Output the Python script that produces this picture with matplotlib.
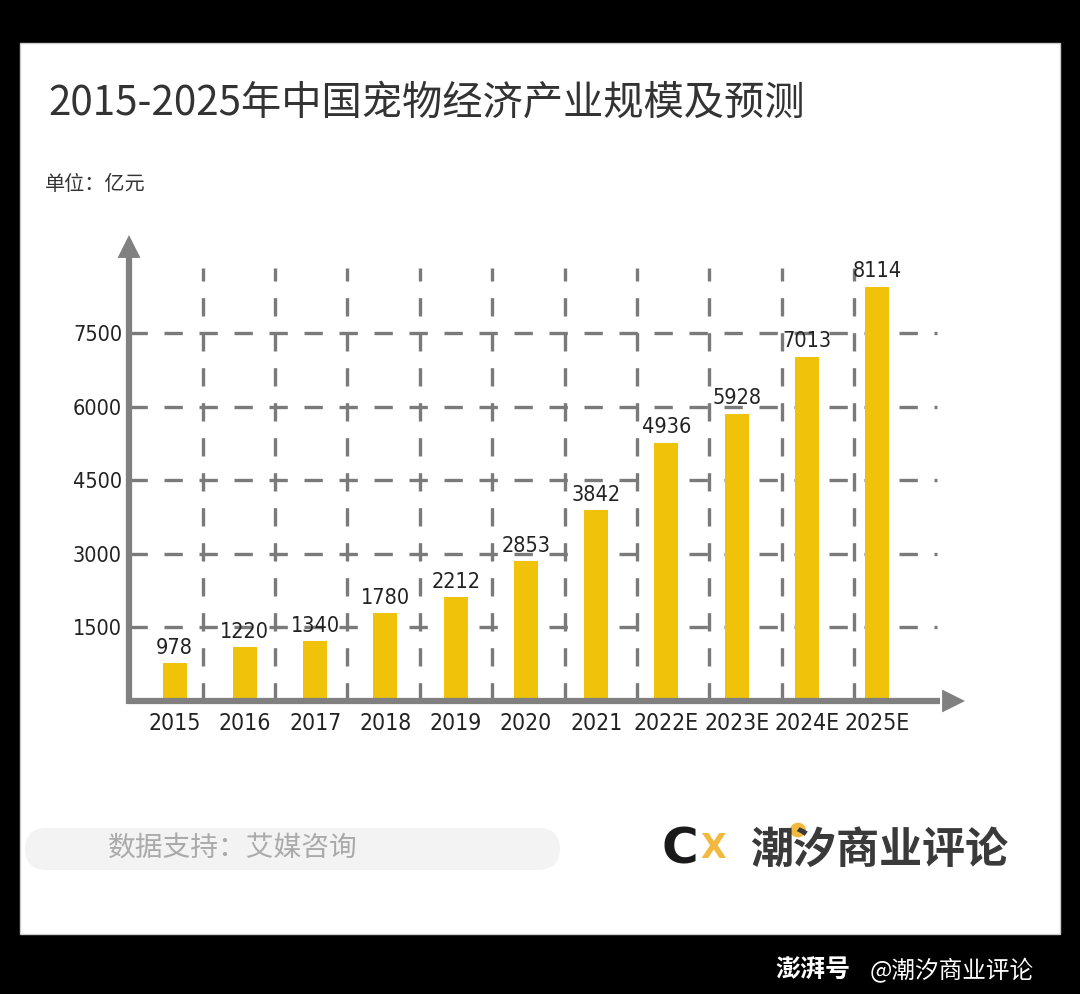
import matplotlib.pyplot as plt
from matplotlib import font_manager
from matplotlib.patches import Rectangle, FancyBboxPatch, Circle

# data
years = ['2015', '2016', '2017', '2018', '2019', '2020', '2021',
         '2022E', '2023E', '2024E', '2025E']
value_labels = ['978', '1220', '1340', '1780', '2212', '2853', '3842',
                '4936', '5928', '7013', '8114']
# bar heights as drawn in the picture (they do not follow the labels exactly)
bar_heights = [773, 1098, 1220, 1790, 2115, 2847, 3884, 5267, 5857, 7016, 8440]
y_ticks = [1500, 3000, 4500, 6000, 7500]

W, H = 1080, 994
gray = '#808080'
grid_gray = '#7a7a7a'
yellow = '#F0C30A'
cjk = ['Noto Sans CJK SC', 'DejaVu Sans']

# look for a narrow font for the numbers
narrow_file = None
for f in font_manager.fontManager.ttflist:
    nm = f.name + ' ' + f.fname
    if ('Narrow' in nm or 'Condensed' in nm) and f.weight in (400, 'normal') \
            and f.style == 'normal':
        narrow_file = f.fname
        break


def num_font(size):
    if narrow_file:
        return font_manager.FontProperties(fname=narrow_file, size=size)
    return font_manager.FontProperties(family='DejaVu Sans', size=size * 0.8)


fig = plt.figure(figsize=(W / 100, H / 100), dpi=100, facecolor='black')

# white panel
fig.patches.append(Rectangle((20 / W, 1 - 934 / H), 1040 / W, 891 / H,
                             transform=fig.transFigure, facecolor='white',
                             edgecolor='#cccccc', lw=1, zorder=-5))

# chart area (pixel box of the axis lines)
left, right, bottom, top = 129, 965, 701, 235
ax = fig.add_axes([left / W, 1 - bottom / H, (right - left) / W, (bottom - top) / H])
ax.set_facecolor('none')
xmin, xmax = -0.65, 11.25
ymax = 9500
ax.set_xlim(xmin, xmax)
ax.set_ylim(0, ymax)
for s in ax.spines.values():
    s.set_visible(False)

# dashed grid (vertical lines are spaced a little wider than the bars)
for v in y_ticks:
    ax.plot([xmin, 10.85], [v, v], color=grid_gray, lw=2.4,
            linestyle=(0, (5.5, 5)), zorder=1)
for i in range(len(years) - 1):
    gx = 0.40 + 1.03 * i
    ax.plot([gx, gx], [0, 8830], color=grid_gray, lw=2.4,
            linestyle=(0, (5.5, 5)), zorder=1)

# bars
x = list(range(len(years)))
ax.bar(x, bar_heights, width=0.34, color=yellow, zorder=2)
for xi, h, lab in zip(x, bar_heights, value_labels):
    ax.annotate(lab, (xi, h), xytext=(0, 4), textcoords='offset points',
                ha='center', va='bottom', fontproperties=num_font(15.5),
                color='#222222', zorder=4)

# axes with arrow heads
ax.plot([xmin, xmin], [-60, ymax - 450], color=gray, lw=4.5,
        solid_capstyle='butt', zorder=3, clip_on=False)
ax.plot([xmin - 0.03, xmax - 0.35], [0, 0], color=gray, lw=4.5,
        solid_capstyle='butt', zorder=3, clip_on=False)
ax.annotate('', xy=(xmin, ymax), xytext=(xmin, ymax - 500),
            arrowprops=dict(arrowstyle='-|>,head_length=1.1,head_width=0.55',
                            color=gray, lw=0, mutation_scale=15,
                            shrinkA=0, shrinkB=0), annotation_clip=False)
ax.annotate('', xy=(xmax, 0), xytext=(xmax - 0.4, 0),
            arrowprops=dict(arrowstyle='-|>,head_length=1.1,head_width=0.55',
                            color=gray, lw=0, mutation_scale=15,
                            shrinkA=0, shrinkB=0), annotation_clip=False)

ax.set_yticks(y_ticks, [str(v) for v in y_ticks])
ax.set_xticks(x, years)
ax.tick_params(axis='y', length=0, pad=5, labelcolor='#222222')
ax.tick_params(axis='x', length=0, pad=8, labelcolor='#222222')
for t in ax.get_yticklabels():
    t.set_fontproperties(num_font(15.5))
for t in ax.get_xticklabels():
    t.set_fontproperties(num_font(16.5))

# title and unit
fig.text(48 / W, 1 - 103 / H, '2015-2025年中国宠物经济产业规模及预测',
         family=cjk, fontsize=29, color='#333333', ha='left', va='center')
fig.text(45 / W, 1 - 185 / H, '单位：亿元', family=cjk, fontsize=14.5,
         color='#333333', ha='left', va='center')

# source pill
fig.patches.append(FancyBboxPatch((25 / W, 1 - 870 / H), 535 / W, 42 / H,
                                  boxstyle='round,pad=0,rounding_size=0.02',
                                  transform=fig.transFigure, mutation_aspect=W / H,
                                  facecolor='#f3f3f3', edgecolor='none', zorder=1))
fig.text(108 / W, 1 - 849 / H, '数据支持：艾媒咨询', family=cjk, fontsize=20,
         color='#aaaaaa', ha='left', va='center')

# logo
fig.patches.append(Circle((798 / W, 1 - 830 / H), 8 / W, transform=fig.transFigure,
                          facecolor='#F2B940', edgecolor='none', zorder=1))
fig.text(662 / W, 1 - 850 / H, 'C', family='DejaVu Sans', fontweight='bold',
         fontsize=36, color='#1a1a1a', ha='left', va='center')
fig.text(700 / W, 1 - 848 / H, 'X', family='DejaVu Sans', fontweight='bold',
         fontsize=24, color='#F2B940', ha='left', va='center')
fig.text(750 / W, 1 - 850 / H, '潮汐商业评论', family=cjk, fontweight='black',
         fontsize=31, color='#3a3a3a', ha='left', va='center')

# watermark on black border
fig.text(775 / W, 1 - 970 / H, '澎湃号', family=cjk, fontweight='black',
         fontsize=18, color='white', ha='left', va='center')
fig.text(870 / W, 1 - 971 / H, '@潮汐商业评论', family=cjk, fontsize=17,
         color='white', ha='left', va='center')

fig.savefig('out.png', dpi=100, facecolor='black')
